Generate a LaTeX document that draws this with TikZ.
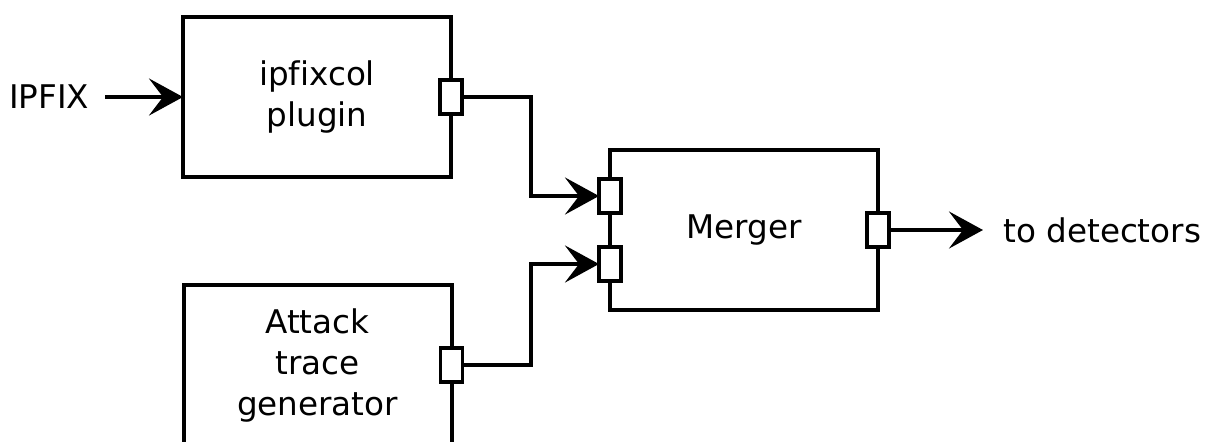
\documentclass[tikz,border=0pt]{standalone}
\usepackage{fontspec}
\setmainfont{DejaVu Sans}[Ligatures=NoCommon]
\usetikzlibrary{arrows.meta,positioning}
\begin{document}
\begin{tikzpicture}[x=0.5pt,y=-0.5pt,
    box/.style={draw,line width=2pt,minimum width=134pt,minimum height=80pt,
      align=center,inner sep=0pt,outer sep=0pt},
    port/.style={draw,fill=white,line width=1.8pt,minimum width=11pt,
      minimum height=17pt,inner sep=0pt,outer sep=0pt},
    arr/.style={line width=2pt,-{Stealth[length=17pt,width=18.5pt,inset=7pt]}},
    font=\fontsize{16.3}{20.5}\selectfont]
  \clip (0,0) rectangle (1210,441);

  % blocks
  \node[box] (col) at (317,97) {ipfixcol\\plugin};
  \node[box] (gen) at (317.5,365) {Attack\\trace\\generator};
  \node[box] (mrg) at (744,230) {Merger};

  % ports
  \node[port] (pcol) at (col.east) {};
  \node[port] (pgen) at (gen.east) {};
  \node[port] (pin1) at ([yshift=17pt]mrg.west) {};
  \node[port] (pin2) at ([yshift=-17pt]mrg.west) {};
  \node[port] (pout) at (mrg.east) {};

  % outer texts
  \node[inner xsep=8pt] (ipfix) at (49,97) {IPFIX};
  \node[anchor=west,inner xsep=10pt] (det) at (983,230) {to detectors};

  \coordinate (jn) at (531,230);

  % connectors
  \draw[arr] (ipfix.east) -- (col.west);
  \draw[arr] (pcol.east) -- (pcol.east -| jn) |- (pin1.west);
  \draw[arr] (pgen.east) -- (pgen.east -| jn) |- (pin2.west);
  \draw[arr] (pout.east) -- (det.west);
\end{tikzpicture}
\end{document}
